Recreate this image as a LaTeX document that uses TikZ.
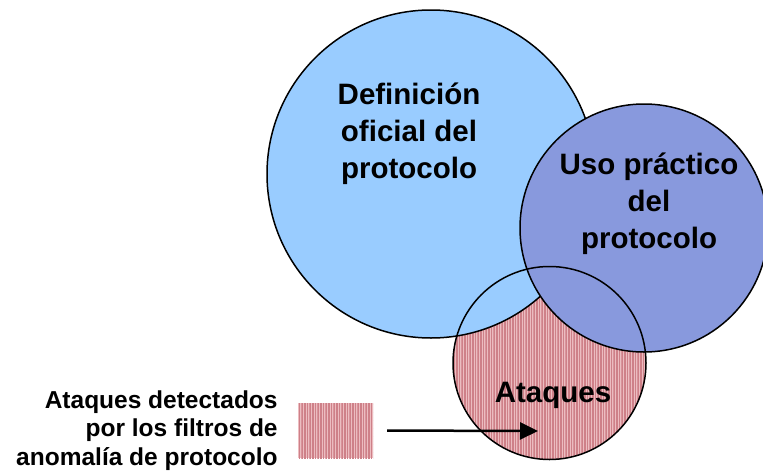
\documentclass[tikz,border=0pt]{standalone}
\usepackage{fontspec}
\setmainfont{Liberation Sans}
\usetikzlibrary{positioning, arrows.meta, patterns.meta}
\definecolor{oficialblue}{RGB}{153,204,255}
\definecolor{practicoblue}{RGB}{136,153,221}
\definecolor{ataquepink}{RGB}{236,188,192}
\definecolor{ataquered}{RGB}{206,128,136}
\tikzstyle{venn} = [circle, inner sep=0pt, line width=1.5pt]
\tikzstyle{hatched} = [fill=ataquepink, postaction={pattern={Lines[angle=90,distance=1.6pt,line width=0.55pt]}, pattern color=ataquered}]
\tikzstyle{bigtext} = [align=center, inner sep=0pt, font=\bfseries\fontsize{29.5}{37}\selectfont]
\tikzstyle{legendtext} = [align=right, inner sep=0pt, font=\bfseries\fontsize{24.5}{28.5}\selectfont]
\tikzstyle{arrow} = [line width=2.5pt,-{Triangle[length=18pt,width=17pt]}]

\begin{document}
\begin{tikzpicture}[x=1pt,y=-1pt]
\useasboundingbox (0,0) rectangle (763,474);
\node (ataq) [venn, hatched, minimum size=193pt] at (549.5,363) {};
\node (oficial) [venn, draw, fill=oficialblue, minimum size=328pt] at (431,174) {};
\node (practico) [venn, draw, fill=practicoblue, minimum size=248pt] at (644,228) {};
\node (ataqrim) [venn, draw, minimum size=193pt] at (ataq) {};

\node (oficialtxt) [bigtext] at (409,134) {Definición\\oficial del\\protocolo};
\node (practicotxt) [bigtext] at (649,204) {Uso práctico\\del\\protocolo};
\node (ataqtxt) [bigtext] at (553,395) {Ataques};

\node (legsq) [hatched, minimum width=75pt, minimum height=55pt, inner sep=0pt] at (335.5,430.5) {};
\node (legtxt) [legendtext, left=20pt of legsq] {Ataques detectados\\por los filtros de\\anomalía de protocolo};
\coordinate (arrtip) at (538,431);

\draw [arrow, shorten <=14pt] (legsq.east) -- (arrtip);
\end{tikzpicture}
\end{document}
